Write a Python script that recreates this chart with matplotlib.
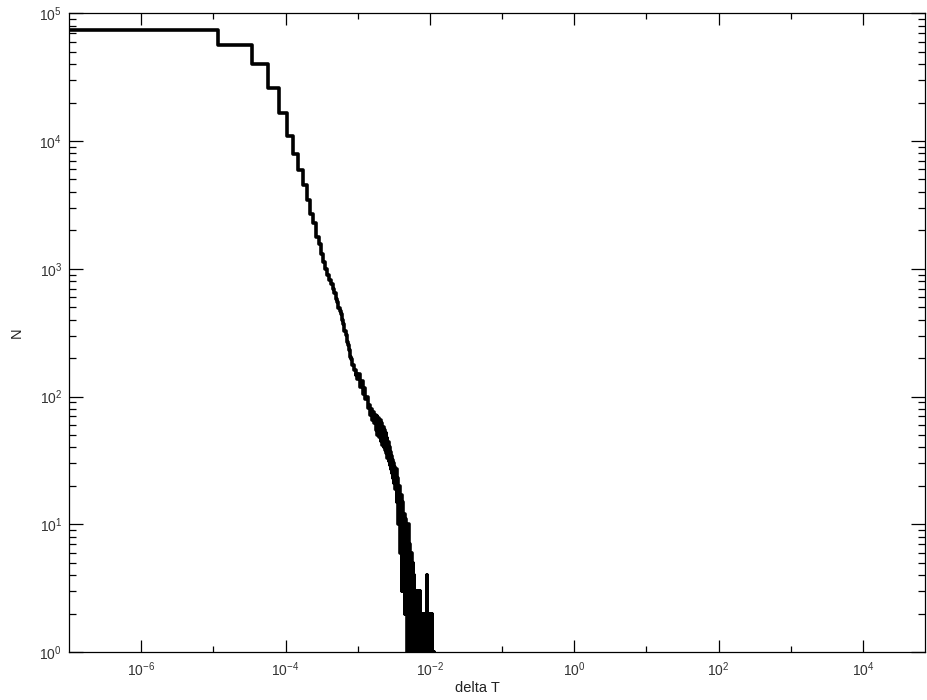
# 時間間隔 delta T のヒストグラム（両対数）
import numpy as np
import matplotlib.pyplot as plt
from matplotlib.ticker import FixedLocator, FuncFormatter, LogLocator, NullFormatter

plt.rcParams['font.family'] = ['Liberation Sans', 'DejaVu Sans']
plt.rcParams['mathtext.default'] = 'regular'

# 先頭のビン（幅 2.3e-5, 中心 0, 2.3e-5, ...）
head_width = 2.3e-5
head_counts = [74000, 56000, 40000, 26000, 16600, 11000, 7900, 5900, 4500, 3450,
               2700, 2300, 1780, 1550, 1300, 1120, 1000, 900, 820, 760,
               700, 650, 575, 545, 495, 470, 445, 395, 370, 325,
               305, 268, 252, 232, 222, 203, 195, 178, 176, 160,
               162, 148, 150, 138]

# 中間部（幅 5e-5, 中心 1.05e-3 から）
mid_start = 1.05e-3
mid_width = 5e-5
mid_counts = [150, 118, 132, 104, 116, 95, 99, 82, 86, 72,
              80, 66, 75, 62, 72, 55, 70, 50, 68, 48,
              66, 45, 62, 42, 58, 40, 55, 38, 52, 36,
              47, 33, 44, 31, 40, 29, 37, 27, 34, 25,
              32, 23, 30, 21, 28, 19]

# 裾の部分（幅 1e-4, 中心 3.4e-3 から）
tail_start = 3.4e-3
tail_width = 1e-4
tail_counts = [27, 15, 23, 10, 20, 6, 17, 3, 15, 5,
               12, 2, 11, 4, 9, 1, 10, 0, 7, 3,
               6, 0, 6, 2, 5, 0, 4, 1, 3, 0,
               3, 1, 2, 0, 3, 1, 0, 2, 1, 3,
               0, 2, 1, 0, 2, 1, 0, 2, 1, 0,
               2, 0, 1, 2, 0, 1, 0, 4, 0, 2,
               1, 0, 2, 0, 1, 2, 0, 1, 2, 0,
               1, 0, 2, 1, 0, 1, 0, 1, 0, 0,
               1, 0, 0, 0]

x_major = [1e-6, 1e-4, 1e-2, 1e0, 1e2, 1e4]
x_minor = [1e-5, 1e-3, 1e-1, 1e1, 1e3]

x = np.concatenate([np.arange(len(head_counts)) * head_width,
                    mid_start + np.arange(len(mid_counts)) * mid_width,
                    tail_start + np.arange(len(tail_counts)) * tail_width])
y = np.array(head_counts + mid_counts + tail_counts, dtype=float)

fig = plt.figure(figsize=(9.27, 7.0), dpi=100)
ax = fig.add_axes([0.0744, 0.0686, 0.9236, 0.9124])
ax.set_xscale('log', nonpositive='clip')
ax.set_yscale('log', nonpositive='clip')
ax.step(x, y, where='mid', color='black', lw=2.6)

ax.set_xlim(1e-7, 10 ** 4.86)
ax.set_ylim(1, 1e5)

fmt = FuncFormatter(lambda v, p: r'$10^{%d}$' % int(round(np.log10(v))))
ax.xaxis.set_major_locator(FixedLocator(x_major))
ax.xaxis.set_minor_locator(FixedLocator(x_minor))
ax.xaxis.set_major_formatter(fmt)
ax.xaxis.set_minor_formatter(NullFormatter())
ax.yaxis.set_major_locator(LogLocator(base=10))
ax.yaxis.set_minor_locator(LogLocator(base=10, subs=np.arange(2, 10)))
ax.yaxis.set_major_formatter(fmt)
ax.yaxis.set_minor_formatter(NullFormatter())

ax.tick_params(which='both', direction='in', top=True, right=True,
               labelsize=10, labelcolor='#333333', width=0.9)
ax.tick_params(axis='x', which='major', length=8.6, pad=6)
ax.tick_params(axis='x', which='minor', length=4.3)
ax.tick_params(axis='y', which='major', length=10, pad=5)
ax.tick_params(axis='y', which='minor', length=5)
for s in ax.spines.values():
    s.set_linewidth(0.9)

ax.set_xlabel('delta T', fontsize=10.5, color='#222222')
ax.set_ylabel('N', fontsize=10.5, color='#222222')
ax.xaxis.set_label_coords(0.477, -0.046)
ax.yaxis.set_label_coords(-0.053, 0.5)

fig.savefig('out.png', dpi=100)
